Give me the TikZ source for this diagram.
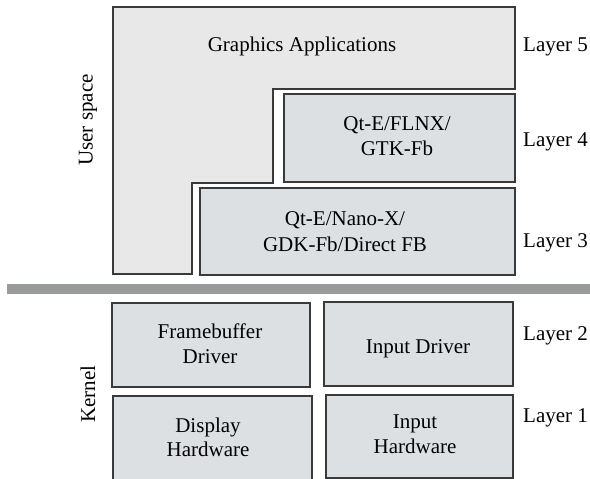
\documentclass[tikz,border=0pt]{standalone}
\usepackage{fontspec}
\setmainfont{Liberation Serif}
\definecolor{lfill}{HTML}{E8E8E9}
\definecolor{bfill}{HTML}{DDE0E3}
\definecolor{bordc}{HTML}{3A3A3A}
\definecolor{barc}{HTML}{999A9C}
\begin{document}
\begin{tikzpicture}[x=1pt,y=-1pt,
  shapebox/.style={draw=bordc,line width=1.2pt,fill=bfill},
  lshape/.style={draw=bordc,line width=1.2pt,fill=lfill},
  lbl/.style={font=\fontsize{21}{25}\selectfont,align=center,inner sep=0pt,anchor=base},
  layerlbl/.style={font=\fontsize{21}{25}\selectfont,inner sep=0pt,anchor=base west},
  sidelbl/.style={font=\fontsize{21}{25}\selectfont,inner sep=0pt,rotate=90}]
\useasboundingbox (0,0) rectangle (590,479);
\clip (0,0) rectangle (590,479);
% user space
\path[lshape] (113,7) -- (515,7) -- (515,89) -- (273,89) -- (273,183) -- (192,183) -- (192,274) -- (113,274) -- cycle;
\path[shapebox] (284,94) rectangle (515,182);
\path[shapebox] (200,188) rectangle (515,275);
% separator bar
\fill[barc] (7,284) rectangle (590,294);
% kernel
\path[shapebox] (112,303) rectangle (310,387);
\path[shapebox] (324,302) rectangle (513,386);
\path[shapebox] (113,396) rectangle (312,485);
\path[shapebox] (326,395) rectangle (513,478);
% texts
\node[lbl] (ga) at (302,52) {Graphics Applications};
\node[lbl] (l4a) at (397,130) {Qt-E/FLNX/};
\node[lbl] (l4b) at (397,155) {GTK-Fb};
\node[lbl] (l3a) at (345,225) {Qt-E/Nano-X/};
\node[lbl] (l3b) at (345,251) {GDK-Fb/Direct FB};
\node[lbl] (fba) at (210,338) {Framebuffer};
\node[lbl] (fbb) at (210,363) {Driver};
\node[lbl] (idr) at (418,353) {Input Driver};
\node[lbl] (dha) at (208,432) {Display};
\node[lbl] (dhb) at (208,456) {Hardware};
\node[lbl] (iha) at (415,428) {Input};
\node[lbl] (ihb) at (415,453) {Hardware};
\node[layerlbl] (lay5) at (523,52) {Layer 5};
\node[layerlbl] (lay4) at (523,146) {Layer 4};
\node[layerlbl] (lay3) at (523,247) {Layer 3};
\node[layerlbl] (lay2) at (523,340) {Layer 2};
\node[layerlbl] (lay1) at (523,422) {Layer 1};
\node[sidelbl] (us) at (88,120) {User space};
\node[sidelbl] (kn) at (88,394) {Kernel};
\end{tikzpicture}
\end{document}
